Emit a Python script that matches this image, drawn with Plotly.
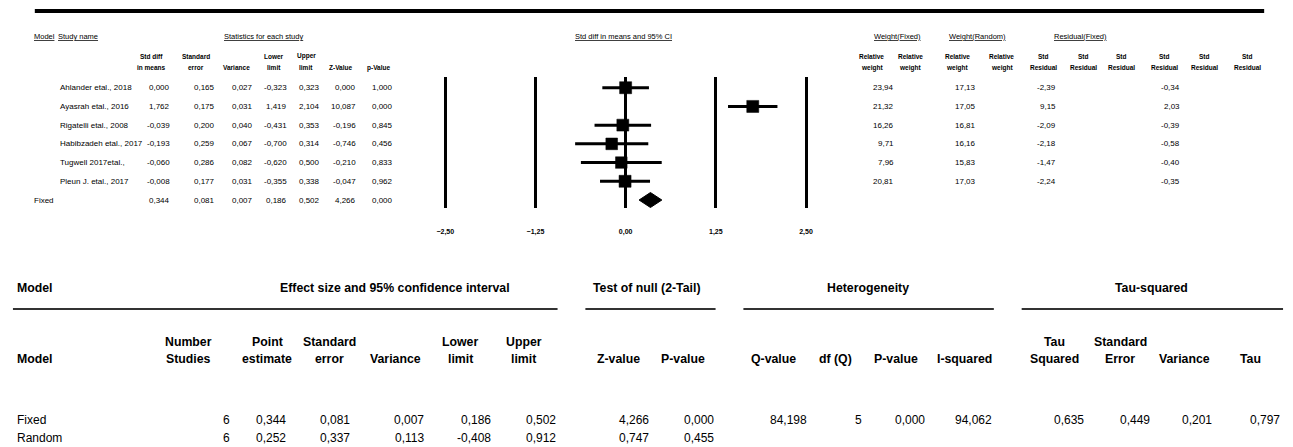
import plotly.graph_objects as go

W, H = 1293, 447

# ---------------- data: per-study statistics ----------------
studies = ["Ahlander etal., 2018", "Ayasrah etal., 2016", "Rigatelli etal., 2008",
           "Habibzadeh etal., 2017", "Tugwell 2017etal.,", "Pleun J. etal., 2017"]
std_diff = [0.000, 1.762, -0.039, -0.193, -0.060, -0.008]
std_err = [0.165, 0.175, 0.200, 0.259, 0.286, 0.177]
variance = [0.027, 0.031, 0.040, 0.067, 0.082, 0.031]
lower = [-0.323, 1.419, -0.431, -0.700, -0.620, -0.355]
upper = [0.323, 2.104, 0.353, 0.314, 0.500, 0.338]
z_val = [0.000, 10.087, -0.196, -0.746, -0.210, -0.047]
p_val = [1.000, 0.000, 0.845, 0.456, 0.833, 0.962]
w_fixed = [23.94, 21.32, 16.26, 9.71, 7.96, 20.81]
w_random = [17.13, 17.05, 16.81, 16.16, 15.83, 17.03]
resid_fixed = [-2.39, 9.15, -2.09, -2.18, -1.47, -2.24]
resid_random = [-0.34, 2.03, -0.39, -0.58, -0.40, -0.35]

# fixed summary row (forest)
fixed_label = "Fixed"
fixed_est = 0.344
fixed_se = 0.081
fixed_var = 0.007
fixed_lo = 0.186
fixed_hi = 0.502
fixed_z = 4.266
fixed_p = 0.000

forest_ticks = [-2.5, -1.25, 0.0, 1.25, 2.5]

# ---------------- data: summary table ----------------
models = ["Fixed", "Random"]
n_studies = [6, 6]
point_est = [0.344, 0.252]
se_model = [0.081, 0.337]
var_model = [0.007, 0.113]
lo_model = [0.186, -0.408]
hi_model = [0.502, 0.912]
z_model = [4.266, 0.747]
p_model = [0.000, 0.455]
q_value = [84.198]
df_q = [5]
p_q = [0.000]
i_squared = [94.062]
tau_sq = [0.635]
tau_se = [0.449]
tau_var = [0.201]
tau = [0.797]

# ---------------- helpers ----------------
TOPF = "Liberation Sans Narrow, Arial Narrow, Liberation Sans, Arial, sans-serif"
BOTF = "Liberation Sans, Arial, sans-serif"


def px(x):
    return x / W


def py(y):
    return 1 - y / H


def fmt(v, d=3):
    return f"{v:.{d}f}".replace(".", ",")


ann = []


def text(t, x, y, anchor="center", size=9, family=TOPF, bold=False, under=False,
         yref="paper", color="#000"):
    f = dict(size=size, family=family, color=color)
    if bold:
        f["weight"] = "bold"
    if under:
        f["lineposition"] = "under"
    ann.append(dict(text=t, x=px(x), y=(py(y) if yref == "paper" else y), xref="paper",
                    yref=yref, xanchor=anchor, yanchor="middle", showarrow=False,
                    font=f, borderpad=0, borderwidth=0))


def header(lines, x, y_last, lh, **kw):
    n = len(lines)
    for k, ln in enumerate(lines):
        text(ln, x, y_last - (n - 1 - k) * lh, **kw)


fig = go.Figure()

# ---------------- forest plot ----------------
rows = list(range(len(studies)))
fixed_row = len(studies)
sizes = [12 * (w / 17.0) ** 0.5 for w in w_random]
fig.add_trace(go.Scatter(
    x=std_diff, y=rows, mode="markers",
    marker=dict(symbol="square", size=sizes, color="#000", opacity=1,
                line=dict(width=0.5, color="#000")),
    error_x=dict(type="data", symmetric=False,
                 array=[u - e for u, e in zip(upper, std_diff)],
                 arrayminus=[e - l for e, l in zip(std_diff, lower)],
                 thickness=3, width=0, color="#000"),
    showlegend=False, hoverinfo="skip"))
dh = 0.4
fig.add_trace(go.Scatter(
    x=[fixed_lo, fixed_est, fixed_hi, fixed_est, fixed_lo],
    y=[fixed_row, fixed_row - dh, fixed_row, fixed_row + dh, fixed_row],
    mode="lines", fill="toself", fillcolor="#000", line=dict(color="#000", width=1),
    showlegend=False, hoverinfo="skip"))

# axis geometry: -2.5 -> px 443, 2.5 -> px 806 ; rows at 87.7 + 18.72*i
ppu = (806 - 443) / 5.0
xr = [-2.55, 2.55]
x_left = 443 - 0.05 * ppu
x_right = 806 + 0.05 * ppu
row0, rstep = 87.7, 18.72
top_px, bot_px = 77, 208
y_top = (top_px - row0) / rstep
y_bot = (bot_px - row0) / rstep

fig.update_layout(
    width=W, height=H, autosize=False,
    margin=dict(l=0, r=0, t=0, b=0),
    paper_bgcolor="white", plot_bgcolor="white",
    separators=",.",
    xaxis=dict(domain=[px(x_left), px(x_right)], range=xr, tickvals=forest_ticks,
               tickformat=".2f", showgrid=True, gridcolor="#000", gridwidth=3,
               zeroline=False, showline=False, ticks="", ticklabelstandoff=18,
               tickfont=dict(size=7, family=TOPF, color="#000", weight="bold"),
               fixedrange=True),
    yaxis=dict(domain=[py(bot_px), py(top_px)], range=[y_bot, y_top],
               showgrid=False, zeroline=False, showticklabels=False, showline=False,
               fixedrange=True),
)

# ---------------- top table ----------------
shapes = [dict(type="line", xref="paper", yref="paper", x0=px(30), x1=px(1267),
               y0=py(11), y1=py(11), line=dict(color="#000", width=4))]

HY = 36
text("Model", 29, HY, "left", size=7.5, under=True)
text("Study name", 53, HY, "left", size=7.5, under=True)
text("Statistics for each study", 260, HY, "center", size=7.5, under=True)
text("Std diff in means and 95% CI", 622, HY, "center", size=7.5, under=True)
text("Weight(Fixed)", 898, HY, "center", size=7.5, under=True)
text("Weight(Random)", 979, HY, "center", size=7.5, under=True)
text("Residual(Fixed)", 1082, HY, "center", size=7.5, under=True)

hl = 11.5
hdrs = [(["Std diff", "in means"], 147), (["Standard", "error"], 192), (["Variance"], 233),
        (["Lower", "limit"], 271), (["Upper", "limit"], 303), (["Z-Value"], 338),
        (["p-Value"], 376)]
for ln, x in hdrs:
    header(ln, x, 67.5, hl, size=6.5, bold=True)
for x in [872, 911, 958, 1003]:
    header(["Relative", "weight"], x, 67.5, hl, size=6.5, bold=True)
for x in [1045, 1085, 1123, 1167, 1207, 1250]:
    header(["Std", "Residual"], x, 67.5, hl, size=6.5, bold=True)

DS = 8
cols = [(std_diff, 166, 3), (std_err, 211, 3), (variance, 250, 3), (lower, 284, 3),
        (upper, 317, 3), (z_val, 353, 3), (p_val, 390, 3)]
for i, name in enumerate(studies):
    text(name, 55, i, "left", size=DS, yref="y")
    for arr, xr_, d in cols:
        text(fmt(arr[i], d), xr_, i, "right", size=DS, yref="y")
    text(fmt(w_fixed[i], 2), 895, i, "right", size=DS, yref="y")
    text(fmt(w_random[i], 2), 977, i, "right", size=DS, yref="y")
    text(fmt(resid_fixed[i], 2), 1058, i, "right", size=DS, yref="y")
    text(fmt(resid_random[i], 2), 1182, i, "right", size=DS, yref="y")

text(fixed_label, 29, fixed_row, "left", size=DS, yref="y")
for v, x in [(fixed_est, 166), (fixed_se, 211), (fixed_var, 250), (fixed_lo, 284),
             (fixed_hi, 317), (fixed_z, 353), (fixed_p, 390)]:
    text(fmt(v), x, fixed_row, "right", size=DS, yref="y")

# ---------------- bottom summary table ----------------
HS = 12.3
VS = 12
BY1 = 288
text("Model", 12, BY1, "left", size=HS, family=BOTF, bold=True)
text("Effect size and 95% confidence interval", 392, BY1, "center", size=HS, family=BOTF, bold=True)
text("Test of null (2-Tail)", 645, BY1, "center", size=HS, family=BOTF, bold=True)
text("Heterogeneity", 868, BY1, "center", size=HS, family=BOTF, bold=True)
text("Tau-squared", 1154, BY1, "center", size=HS, family=BOTF, bold=True)
for x0, x1 in [(8, 556), (584, 715), (743, 995), (1023, 1286)]:
    shapes.append(dict(type="line", xref="paper", yref="paper", x0=px(x0), x1=px(x1),
                       y0=py(309), y1=py(309), line=dict(color="#333", width=2)))

BY2 = 359
bl = 17
text("Model", 12, BY2, "left", size=HS, family=BOTF, bold=True)
bh = [(["Number", "Studies"], 185), (["Point", "estimate"], 264), (["Standard", "error"], 327),
      (["Variance"], 393), (["Lower", "limit"], 458), (["Upper", "limit"], 522),
      (["Z-value"], 617), (["P-value"], 682), (["Q-value"], 773), (["df (Q)"], 836),
      (["P-value"], 897), (["I-squared"], 965), (["Tau", "Squared"], 1056),
      (["Standard", "Error"], 1122), (["Variance"], 1187), (["Tau"], 1253)]
for ln, x in bh:
    header(ln, x, BY2, bl, size=HS, family=BOTF, bold=True)

row_y = [420, 438]
for j, m in enumerate(models):
    y = row_y[j]
    text(m, 12, y, "left", size=VS, family=BOTF)
    text(str(n_studies[j]), 226, y, "right", size=VS, family=BOTF)
    for arr, x in [(point_est, 283), (se_model, 347), (var_model, 422), (lo_model, 489),
                   (hi_model, 554), (z_model, 648), (p_model, 713)]:
        text(fmt(arr[j]), x, y, "right", size=VS, family=BOTF)
y = row_y[0]
text(fmt(q_value[0]), 807, y, "right", size=VS, family=BOTF)
text(str(df_q[0]), 862, y, "right", size=VS, family=BOTF)
for arr, x in [(p_q, 926), (i_squared, 993), (tau_sq, 1086), (tau_se, 1152),
               (tau_var, 1215), (tau, 1283)]:
    text(fmt(arr[0]), x, y, "right", size=VS, family=BOTF)

fig.update_layout(annotations=ann, shapes=shapes)
fig.write_html("out.html", config={"displayModeBar": False},
               post_script="document.body.style.margin='0';document.body.style.overflow='hidden';")
